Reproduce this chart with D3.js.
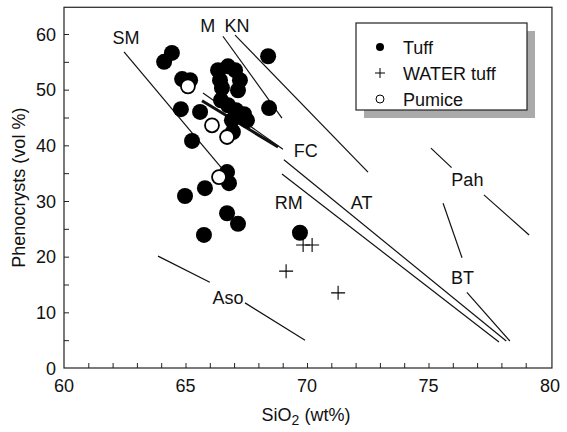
<!DOCTYPE html>
<html>
<head>
<meta charset="utf-8">
<script src="https://cdn.jsdelivr.net/npm/d3@7"></script>
<style>
  body { margin: 0; background: #fff; }
  text { font-family: "Liberation Sans", Arial, sans-serif; fill: #111; }
</style>
</head>
<body>
<div id="chart"></div>
<script>
// Data (SiO2 wt%, phenocrysts vol%)
const tuff = [
  [64.12, 55.0], [64.44, 56.6], [64.86, 51.9], [65.19, 51.7], [64.81, 46.5],
  [65.27, 40.8], [65.60, 46.0], [66.34, 53.5], [67.04, 53.5], [66.75, 54.2],
  [66.42, 51.7], [67.24, 51.7], [66.50, 50.3], [67.16, 49.9], [66.46, 48.1],
  [66.75, 47.2], [67.08, 46.3], [67.41, 45.6], [66.91, 44.5], [67.53, 44.5],
  [66.95, 42.4], [68.40, 56.0], [68.44, 46.7], [66.79, 33.2], [66.71, 35.2],
  [64.98, 30.9], [65.80, 32.3], [66.71, 27.8], [67.16, 25.9], [65.76, 23.9],
  [69.71, 24.3]
]
const waterTuff = [[69.84, 22.1], [70.21, 22.1], [69.14, 17.4], [71.28, 13.5]]
const pumice = [[65.10, 50.6], [66.09, 43.6], [66.71, 41.5], [66.38, 34.3]]

// field trend lines (each a list of segments)
const fieldLines = [
  { name: 'SM', segs: [[[62.47, 56.8], [66.55, 35.6]]] },
  { name: 'M', segs: [[[66.54, 59.6], [68.97, 44.9]]] },
  { name: 'KN', segs: [[[67.04, 59.8], [72.51, 35.2]]] },
  { name: 'FC', segs: [[[65.72, 49.4], [69.01, 39.3]]] },
  { name: 'AT', segs: [[[69.05, 37.4], [78.2, 4.85]]] },
  { name: 'RM', segs: [[[68.97, 34.85], [77.9, 4.67]]] },
  { name: 'Pah', segs: [[[75.10, 39.5], [75.95, 36.0]], [[77.28, 31.1], [79.14, 23.9]]] },
  { name: 'BT', segs: [[[75.60, 29.6], [76.38, 19.8]], [[76.58, 13.6], [78.35, 4.85]]] },
  { name: 'Aso', segs: [[[63.87, 20.1], [66.0, 15.4]], [[67.45, 11.7], [69.92, 5.0]]] }
]
const fcThick = [[65.68, 48.0], [68.81, 39.7]]
const fieldLabels = [
  ['SM', 62.55, 59.3], ['M', 65.92, 61.6], ['KN', 67.12, 61.6], ['FC', 69.95, 39.0],
  ['RM', 69.25, 29.8], ['AT', 72.25, 29.8], ['Pah', 76.6, 33.8], ['BT', 76.4, 16.3],
  ['Aso', 66.75, 12.6]
]
const xTicks = [60, 65, 70, 75, 80]
const yTicks = [0, 10, 20, 30, 40, 50, 60]
const legendItems = ['Tuff', 'WATER tuff', 'Pumice']

// Dimensions
const width = 567, height = 432
const fs = 18
const x = d3.scaleLinear().domain([60, 80]).range([64, 550])
const y = d3.scaleLinear().domain([0, 60]).range([368, 34])

const svg = d3.select('#chart').append('svg')
  .attr('width', width).attr('height', height)

// frame
svg.append('rect')
  .attr('x', x(60)).attr('y', y(64.8))
  .attr('width', x(80.08) - x(60)).attr('height', y(0) - y(64.8))
  .attr('fill', 'none').attr('stroke', '#222').attr('stroke-width', 1.2)

// axes, ticks point inward
const xAxis = svg.append('g').attr('transform', `translate(0,${y(0)})`)
  .call(d3.axisBottom(x).tickValues(d3.range(60, 81, 1)).tickSize(-5).tickFormat(''))
xAxis.select('.domain').remove()
xAxis.selectAll('.tick').filter(d => d === 60 || d === 80).remove()
xAxis.selectAll('line').attr('stroke', '#222')

svg.append('g').selectAll('text').data(xTicks).join('text')
  .attr('x', d => x(d)).attr('y', 392)
  .attr('text-anchor', 'middle').attr('font-size', fs).text(d => d)

const yAxis = svg.append('g').attr('transform', `translate(${x(60)},0)`)
  .call(d3.axisLeft(y).tickValues(d3.range(5, 65, 5)).tickSize(-5).tickFormat(''))
yAxis.select('.domain').remove()
yAxis.selectAll('line').attr('stroke', '#222')

svg.append('g').selectAll('text').data(yTicks).join('text')
  .attr('x', 56).attr('y', d => y(d) + 6.5)
  .attr('text-anchor', 'end').attr('font-size', fs).text(d => d)

// axis titles
svg.append('text')
  .attr('transform', `translate(25,${(y(0) + y(64.8)) / 2}) rotate(-90)`)
  .attr('text-anchor', 'middle').attr('font-size', fs)
  .text('Phenocrysts (vol %)')

const xt = svg.append('text').attr('x', 306).attr('y', 421)
  .attr('text-anchor', 'middle').attr('font-size', fs)
xt.append('tspan').text('SiO')
xt.append('tspan').attr('dy', 4).attr('font-size', 14).text('2')
xt.append('tspan').attr('dy', -4).text(' (wt%)')

// field lines
const line = d3.line().x(d => x(d[0])).y(d => y(d[1]))
fieldLines.forEach(f => {
  svg.append('g').selectAll('path').data(f.segs).join('path')
    .attr('d', line).attr('fill', 'none')
    .attr('stroke', '#111').attr('stroke-width', 1.2)
})
svg.append('path').attr('d', line(fcThick))
  .attr('fill', 'none').attr('stroke', '#111').attr('stroke-width', 3)

svg.append('g').selectAll('text').data(fieldLabels).join('text')
  .attr('x', d => x(d[1])).attr('y', d => y(d[2]) + 6.5)
  .attr('text-anchor', 'middle').attr('font-size', fs)
  .text(d => d[0])

// points
svg.append('g').selectAll('circle').data(tuff).join('circle')
  .attr('cx', d => x(d[0])).attr('cy', d => y(d[1])).attr('r', 8)
  .attr('fill', '#000')

svg.append('g').selectAll('circle').data(pumice).join('circle')
  .attr('cx', d => x(d[0])).attr('cy', d => y(d[1])).attr('r', 7)
  .attr('fill', '#fff').attr('stroke', '#000').attr('stroke-width', 1.8)

svg.append('g').selectAll('path').data(waterTuff).join('path')
  .attr('d', d => `M${x(d[0]) - 7},${y(d[1])}h14M${x(d[0])},${y(d[1]) - 7}v14`)
  .attr('stroke', '#000').attr('stroke-width', 1.1)

// legend
const lg = svg.append('g').attr('transform', 'translate(356,23)')
lg.append('rect').attr('x', 8).attr('y', 8).attr('width', 171).attr('height', 87)
  .attr('fill', '#aaa')
lg.append('rect').attr('width', 171).attr('height', 87)
  .attr('fill', '#fff').attr('stroke', '#222').attr('stroke-width', 1.2)

const rowY = d3.scalePoint().domain(legendItems).range([24, 76])
lg.selectAll('text').data(legendItems).join('text')
  .attr('x', 47).attr('y', d => rowY(d) + 6.5).attr('font-size', fs).text(d => d)
lg.append('circle').attr('cx', 24).attr('cy', rowY('Tuff')).attr('r', 4).attr('fill', '#000')
lg.append('path')
  .attr('d', `M19,${rowY('WATER tuff')}h10M24,${rowY('WATER tuff') - 5}v10`)
  .attr('stroke', '#000')
lg.append('circle').attr('cx', 24).attr('cy', rowY('Pumice')).attr('r', 4)
  .attr('fill', '#fff').attr('stroke', '#000')
</script>
</body>
</html>
